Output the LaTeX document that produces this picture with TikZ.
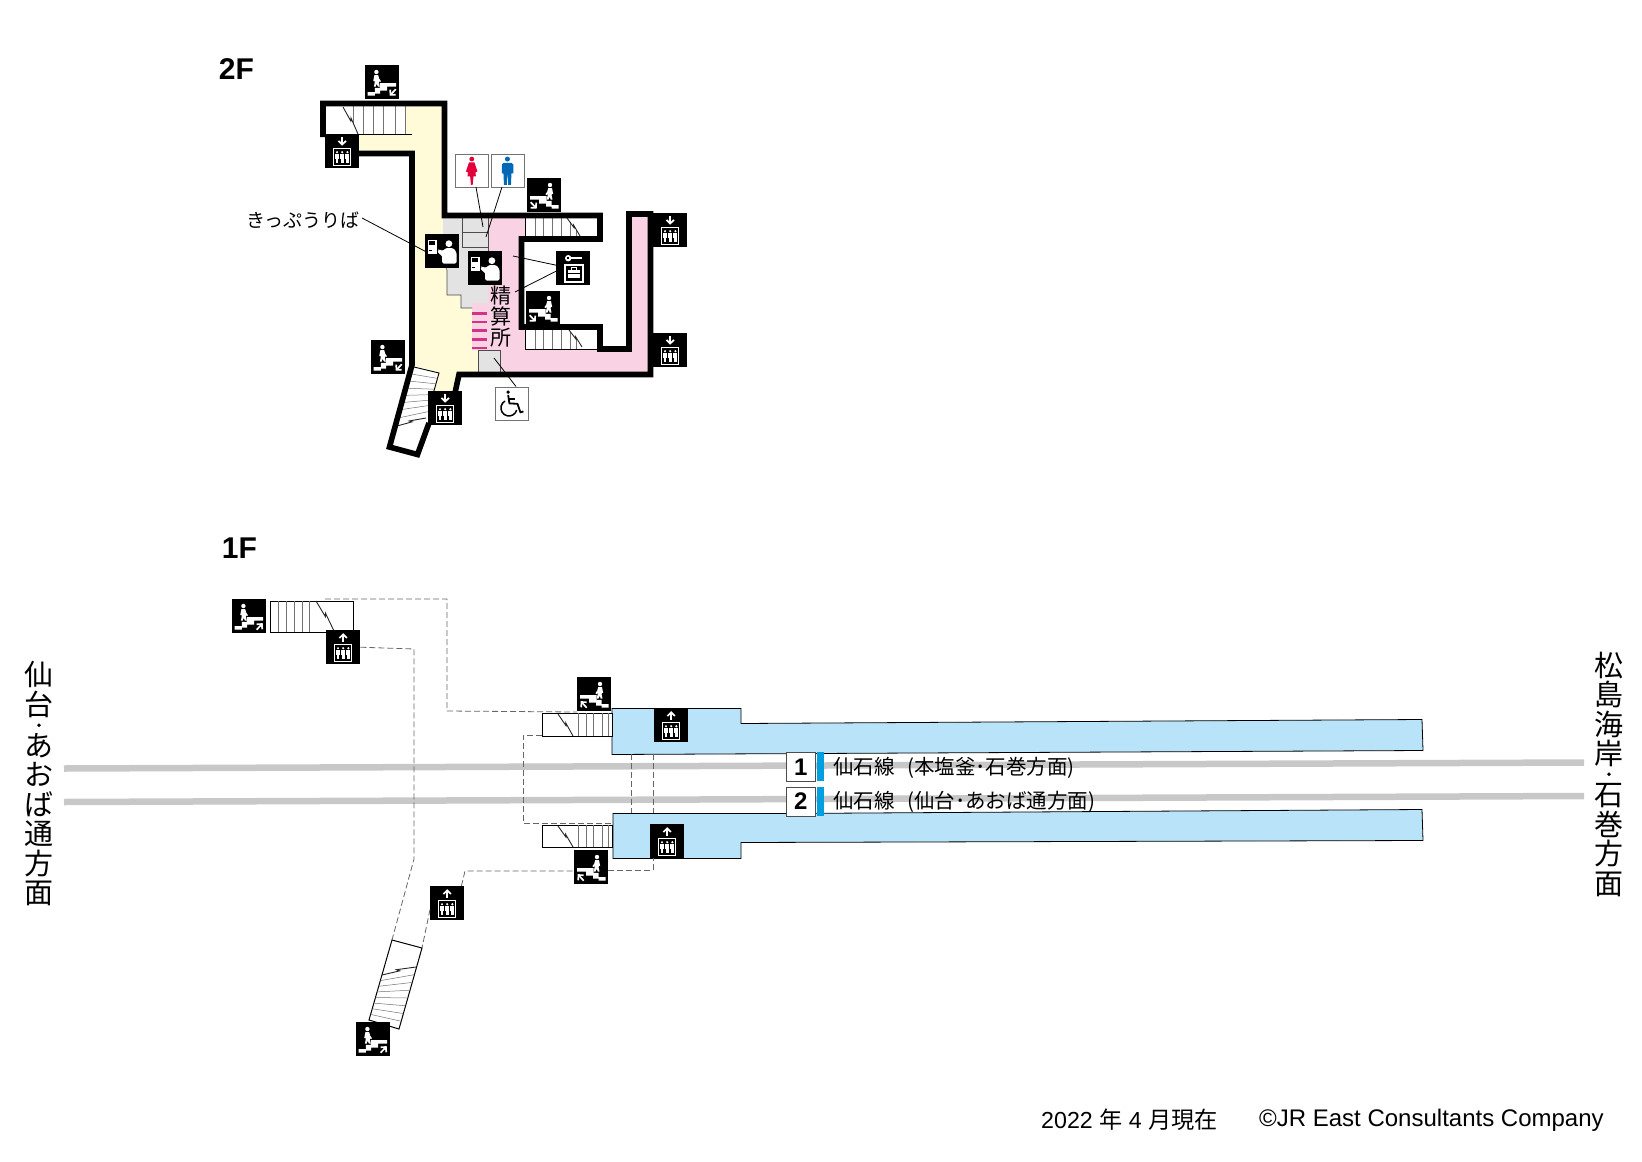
\documentclass[tikz,border=0pt]{standalone}
\usepackage{fontspec}
\setmainfont{Liberation Sans}
\newfontfamily\cjk{Noto Sans CJK JP}
\usetikzlibrary{calc,arrows.meta}
\definecolor{hallyellow}{RGB}{255,251,217}
\definecolor{gatepink}{RGB}{249,210,228}
\definecolor{roomgrey}{RGB}{227,227,227}
\definecolor{deckblue}{RGB}{185,227,248}
\definecolor{stripblue}{RGB}{0,160,224}
\definecolor{railgrey}{RGB}{200,200,200}
\definecolor{gatemagenta}{RGB}{212,50,132}
\definecolor{ladyred}{RGB}{226,0,60}
\definecolor{manblue}{RGB}{0,104,183}
\tikzset{
  wall/.style={line width=5.6pt, draw=black, miter limit=10},
  thin-edge/.style={line width=0.9pt, draw=black},
  tread/.style={line width=0.5pt, draw=black!55},
  break-line/.style={line width=0.9pt, draw=black!85},
  leader/.style={line width=0.8pt, draw=black},
  walk-way/.style={line width=0.8pt, draw=black!60, dash pattern=on 6pt off 3pt},
  rail/.style={line width=6.5pt, draw=railgrey},
  deck/.style={line width=0.8pt, draw=black, fill=deckblue},
  sign/.style={rectangle, fill=black, minimum size=34pt, inner sep=0pt, anchor=north west},
  board/.style={rectangle, fill=white, draw=black!55, line width=0.9pt, minimum size=33pt, inner sep=0pt, anchor=north west},
  glyph/.style={shift={(-17,-17)}},
  go/.style={white, line width=1.7pt, -{Straight Barb[length=3.6pt,width=7.5pt]}},
  floor-label/.style={font=\bfseries\fontsize{30}{30}\selectfont},
  stack-label/.style={font=\cjk\fontsize{29}{29.5}\selectfont, align=center, inner sep=0pt},
  small-stack/.style={font=\cjk\fontsize{21}{21}\selectfont, align=center, inner sep=0pt},
  jp-label/.style={font=\cjk\fontsize{19}{19}\selectfont, inner sep=0pt},
  line-label/.style={font=\cjk\fontsize{20.5}{20.5}\selectfont, inner sep=0pt, anchor=west},
  track-no/.style={rectangle, fill=white, draw=black!70, line width=0.8pt, minimum width=29pt, minimum height=29pt, inner sep=0pt, anchor=north west, font=\bfseries\fontsize{24}{24}\selectfont},
  foot-label/.style={font=\fontsize{24}{24}\selectfont, inner sep=0pt},
  % Stairs and lifts
  stair-down/.pic={
    \begin{scope}[glyph]
      \stairglyph
      \draw[go] (30.5,24) -- (24.5,30.5);
    \end{scope}
  },
  stair-up/.pic={
    \begin{scope}[glyph]
      \stairglyph
      \draw[go] (24.5,30.5) -- (30.5,24);
    \end{scope}
  },
  lift-down/.pic={
    \begin{scope}[glyph]
      \liftglyph
      \draw[go] (17,3) -- (17,11.5);
    \end{scope}
  },
  lift-up/.pic={
    \begin{scope}[glyph]
      \liftglyph
      \draw[go] (17,11.5) -- (17,3);
    \end{scope}
  },
  ticket/.pic={
    \begin{scope}[glyph]
      \fill[white] (2.7,5.3) rectangle (11.3,20);
      \fill[black] (4,7) rectangle (10,11);
      \fill[black] (4,16) rectangle (7,17);
      \fill[white] (23.7,9.5) circle (3.4);
      \fill[white, rounded corners=1.5pt] (17,29.5) -- (17,21) -- (13.5,20) -- (12.3,16) -- (14,15) -- (17.5,17) -- (20.5,13.8) -- (28,13.8) -- (31.3,18) -- (31.3,29.5) -- cycle;
    \end{scope}
  },
  locker/.pic={
    \begin{scope}[glyph]
      \fill[white] (12,7) circle (3.2);
      \fill[white] (13,6) rectangle (26,8);
      \fill[black] (11.2,6.2) rectangle (12.6,7.8);
      \draw[white, line width=2pt] (8.3,14) rectangle (26.5,30.5);
      \fill[white] (11.5,18.5) rectangle (23.5,27);
      \draw[white, line width=1pt] (15,18.5) -- (15,16.6) -- (20,16.6) -- (20,18.5);
      \draw[black, line width=0.5pt] (11.5,22) -- (23.5,22);
    \end{scope}
  },
  lady/.pic={
    \begin{scope}[glyph]
      \fill[ladyred] (17.3,5.6) circle (2.4);
      \fill[ladyred] (14.5,9) -- (20,9) -- (23,18) -- (21,19) -- (21.5,23) -- (19,23) -- (18.2,31.5) -- (16.5,31.5) -- (15.7,23) -- (13,23) -- (13.5,19) -- (11.5,18) -- cycle;
    \end{scope}
  },
  gent/.pic={
    \begin{scope}[glyph]
      \fill[manblue] (17,5.6) circle (2.5);
      \fill[manblue] (11.5,11) -- (13,9.5) -- (21,9.5) -- (22.8,11) -- (22.8,20) -- (21,20) -- (20.5,31.5) -- (17.7,31.5) -- (17.2,22) -- (16.7,22) -- (16.3,31.5) -- (13.5,31.5) -- (13,20) -- (11.5,20) -- cycle;
    \end{scope}
  },
  wheelchair/.pic={
    \begin{scope}[glyph]
      \fill[black] (13.7,5.7) circle (1.9);
      \draw[black, line width=1.8pt, line join=round] (13.7,8.5) -- (15,17) -- (23,17.3) -- (26,26) -- (29,25);
      \draw[black, line width=1.4pt] (15,12.5) -- (21,12.5);
      \draw[black, line width=1.5pt] (10.5,14.6) arc[start angle=120, end angle=345, radius=8pt];
    \end{scope}
  }
}
\newcommand{\stairglyph}{
  \fill[white] (2.5,30.5) -- (2.5,27) -- (9.7,27) -- (9.7,22.7) -- (14.7,22.7) -- (14.7,18) -- (31,18) -- (31,21.3) -- (22,21.3) -- (22,25.5) -- (15,25.5) -- (15,28.5) -- (9.7,28.5) -- (9.7,30.5) -- cycle;
  \fill[white] (11.2,6.8) circle (2.2);
  \fill[white] (9.2,10) -- (13,10) -- (14,13.5) -- (15.8,16) -- (14.6,17) -- (13.6,15.5) -- (13.6,17.5) -- (14.6,21.5) -- (12.8,21.5) -- (11.4,18.5) -- (10.5,21.5) -- (8.7,21.5) -- (9.6,17) -- (9.2,15.5) -- (8,16) -- cycle;
}
\newcommand{\liftglyph}{
  \draw[white, line width=1.2pt] (8.4,14) rectangle (25.6,31);
  \foreach \p in {11.8,17,22.2} {
    \fill[white] (\p,18) circle (1.2);
    \fill[white] (\p-2,19.6) rectangle (\p+2,24.5);
    \fill[white] (\p-1.3,24.5) rectangle (\p+1.3,29);
  }
}
\newcommand{\stairbreak}[2]{
  \draw[break-line] (#1) -- ($(#1)!0.52!(#2)$) -- ($(#1)!0.44!7:(#2)$) -- (#2);
}
\newcommand{\stackdot}{{\fontsize{14}{14}\selectfont\addfontfeature{FakeBold=4}・}}

\begin{document}
\begin{tikzpicture}[x=1pt,y=-1pt]
  \useasboundingbox (0,0) rectangle (1642,1162);
  % Floor titles
  \node[floor-label] (floorTwo) at (236.5,69) {2F};
  \node[floor-label] (floorOne) at (239.5,548) {1F};

  % 2F areas
  \fill[hallyellow] (358,135) -- (358,151) -- (412,151) -- (412,365) -- (439,373) -- (430,400) -- (456,400) -- (459,372) -- (478,372) -- (478,350) -- (472,350) -- (472,308) -- (461,308) -- (461,295) -- (447,295) -- (447,270) -- (443,262) -- (443,218) -- (442,106) -- (405,106) -- (405,135) -- cycle;
  \fill[roomgrey] (443,218) -- (488,218) -- (488,303) -- (472,303) -- (472,308) -- (461,308) -- (461,295) -- (447,295) -- (447,270) -- (443,262) -- cycle;
  \fill[gatepink] (488,218) -- (525,218) -- (525,240) -- (520,240) -- (520,330) -- (525,330) -- (525,350) -- (632,350) -- (632,214) -- (650,214) -- (650,372) -- (500,372) -- (500,350) -- (472,350) -- (472,303) -- (488,303) -- cycle;
  \fill[roomgrey] (478,350) rectangle (500,372);
  \draw[line width=0.6pt, draw=black!70] (443,262) -- (447,270) -- (447,295) -- (461,295) -- (461,308) -- (472,308);
  \draw[line width=0.6pt, draw=black!70] (462,218) -- (462,247) -- (488,247) (462,232) -- (488,232) (488,218) -- (488,251);
  \draw[line width=0.6pt, draw=black!70] (478,372) -- (478,350) -- (500,350) -- (500,372);

  % Fare gates
  \foreach \y in {313.5,322,330.5,339.5,348} {
    \draw[gatemagenta, line width=2.7pt] (472,\y) -- (487,\y);
  }

  % 2F stairs
  \draw[thin-edge] (326,134) -- (412,134);
  \draw[tread] (405,106) -- (405,134);
  \draw[tread] (353,106) -- (353,124);
  \foreach \x in {363,373,383,395} {
    \draw[tread] (\x,106) -- (\x,134);
  }
  \stairbreak{343,107}{358,134}
  \draw[thin-edge] (525,218) -- (525,237);
  \foreach \x in {535,543,552,561} {
    \draw[tread] (\x,218) -- (\x,237);
  }
  \draw[tread] (570,222) -- (570,237);
  \draw[tread] (576,230) -- (576,237);
  \stairbreak{567,218}{580,236}
  \draw[thin-edge] (525,330) -- (525,349) -- (597,349);
  \foreach \x in {535,543,552,561} {
    \draw[tread] (\x,330) -- (\x,349);
  }
  \draw[tread] (570,332) -- (570,349);
  \draw[tread] (576,339) -- (576,349);
  \stairbreak{569,330}{582,347}
  \coordinate (flightA) at (414,367);
  \coordinate (flightB) at (439,373);
  \coordinate (flightC) at (397,426);
  \coordinate (flightD) at (426,418);
  \draw[thin-edge] (flightA) -- (flightB) -- (430,405);
  \foreach \t in {0.12,0.24,0.36,0.48,0.6,0.72,0.86} {
    \draw[tread] ($(flightA)!\t!(flightC)$) -- ($(flightB)!\t!(flightD)$);
  }
  \stairbreak{flightC}{flightD}

  % 2F walls
  \draw[wall] (323,137) -- (323,103.5) -- (444.5,103.5) -- (444.5,215.5) -- (600,215.5) -- (600,239) -- (521.5,239) -- (521.5,327) -- (600,327) -- (600,349) -- (629,349) -- (629,214) -- (650.5,214) -- (650.5,374.5) -- (459,374.5) -- (455,393);
  \draw[wall] (358,153.5) -- (412,153.5) -- (412,365) -- (389.5,447) -- (417.5,454.5) -- (429,423);

  % 2F signs
  \node[sign] (stairTop) at (365,65) {};
  \node[sign] (liftTop) at (325,134) {};
  \node[sign] (ticketHall) at (425,234) {};
  \node[sign] (ticketGate) at (468,251) {};
  \node[sign] (stairUpper) at (527,178) {};
  \node[sign] (stairLower) at (526,291) {};
  \node[sign] (lockerSign) at (556,251) {};
  \node[sign] (liftUpper) at (653,213) {};
  \node[sign] (liftLower) at (653,333) {};
  \node[sign] (stairLeft) at (371,340) {};
  \node[sign] (liftFoot) at (428,391) {};
  \node[board] (ladyBoard) at (454.5,153.5) {};
  \node[board] (gentBoard) at (490.5,153.5) {};
  \node[board] (chairBoard) at (494.5,386.5) {};
  \pic at (stairTop) {stair-down};
  \pic at (liftTop) {lift-down};
  \pic at (ticketHall) {ticket};
  \pic at (ticketGate) {ticket};
  \pic[xscale=-1] at (stairUpper) {stair-down};
  \pic[xscale=-1] at (stairLower) {stair-down};
  \pic at (lockerSign) {locker};
  \pic at (liftUpper) {lift-down};
  \pic at (liftLower) {lift-down};
  \pic at (stairLeft) {stair-down};
  \pic at (liftFoot) {lift-down};
  \pic at (ladyBoard) {lady};
  \pic at (gentBoard) {gent};
  \pic at (chairBoard) {wheelchair};

  % 2F labels and leaders
  \node[jp-label] (ticketLabel) at (303,220) {きっぷうりば};
  \node[small-stack] (fareLabel) at (500.5,317) {精\\算\\所};
  \coordinate (ladyEnd) at (483,227);
  \coordinate (gentEnd) at (486,237);
  \coordinate (lockerEndA) at (513,256);
  \coordinate (lockerEndB) at (515,292);
  \coordinate (chairEnd) at (494,358);
  \coordinate (ticketStart) at (362,218);
  \draw[leader] (ticketStart) -- (ticketHall.west);
  \draw[leader] (476,187) -- (ladyEnd);
  \draw[leader] (502,187) -- (gentEnd);
  \draw[leader] (lockerSign.170) -- (lockerEndA);
  \draw[leader] (lockerSign.190) -- (lockerEndB);
  \draw[leader] (chairBoard.75) -- (chairEnd);

  % Tracks
  \coordinate (railAw) at (64,768.5);
  \coordinate (railAe) at (1584,762.5);
  \coordinate (railBw) at (64,802);
  \coordinate (railBe) at (1584,796);
  \draw[rail] (railAw) -- (railAe);
  \draw[rail] (railBw) -- (railBe);

  % Platforms
  \draw[deck] (612,708.5) -- (741,708.5) -- (741,723.5) -- (1422,719.5) -- (1423,750.5) -- (612,754.5) -- cycle;
  \draw[deck] (613,813.5) -- (787,813.5) -- (1422,809.5) -- (1423,840.5) -- (741,842.5) -- (741,858.5) -- (613,858.5) -- cycle;

  % 1F walkways
  \coordinate (wayA) at (325,599);
  \coordinate (wayB) at (577,712);
  \coordinate (wayC) at (612,735);
  \coordinate (wayD) at (612,823);
  \coordinate (wayE) at (631,754);
  \coordinate (wayF) at (631,813);
  \coordinate (wayG) at (653,754);
  \coordinate (wayH) at (653,813);
  \coordinate (wayJ) at (653,858);
  \coordinate (wayK) at (392,940);
  \coordinate (wayL) at (422,948);
  \draw[walk-way] (wayA) -- (447,599) -- (447,711) -- (wayB);
  \draw[walk-way] (542,735) -- (523,735) -- (523,823) -- (wayD);
  \draw[walk-way] (wayE) -- (wayF);
  \draw[walk-way] (wayG) -- (wayH);

  % 1F stairs
  \node[draw=black, line width=1pt, minimum width=83pt, minimum height=31pt, inner sep=0pt, anchor=north west, fill=white] (flightWest) at (270,601) {};
  \foreach \x in {278,286,294,302,309} {
    \draw[tread] (\x,601) -- (\x,632);
  }
  \stairbreak{316,601}{334,631}
  \node[draw=black, line width=1pt, minimum width=70pt, minimum height=23pt, inner sep=0pt, anchor=north west, fill=white] (flightNorth) at (542,713) {};
  \node[draw=black, line width=1pt, minimum width=70pt, minimum height=22pt, inner sep=0pt, anchor=north west, fill=white] (flightSouth) at (542,825) {};
  \foreach \x in {578,586,593,602,608} {
    \draw[tread] (\x,713) -- (\x,736);
    \draw[tread] (\x,825) -- (\x,847);
  }
  \stairbreak{558,714}{573,736}
  \stairbreak{558,826}{573,847}
  \coordinate (slantA) at (392,940);
  \coordinate (slantB) at (422,948);
  \coordinate (slantC) at (399,1029);
  \coordinate (slantD) at (369,1020);
  \coordinate (slantE) at (382,975);
  \coordinate (slantF) at (416,967);
  \draw[line width=1pt, draw=black, fill=white] (slantA) -- (slantB) -- (slantC) -- (slantD) -- cycle;
  \foreach \t in {0.125,0.25,0.375,0.5,0.625,0.75,0.875} {
    \draw[tread] ($(slantD)!\t!(slantE)$) -- ($(slantC)!\t!(slantF)$);
  }
  \stairbreak{slantE}{slantF}

  % 1F signs
  \node[sign] (stairWest) at (232,599) {};
  \node[sign] (liftWest) at (326,630) {};
  \node[sign] (stairNorth) at (577,677) {};
  \node[sign] (liftNorth) at (654,708) {};
  \node[sign] (liftSouth) at (650,824) {};
  \node[sign] (stairSouth) at (574,850) {};
  \node[sign] (liftSlant) at (430,886) {};
  \node[sign] (stairSlant) at (356,1022) {};
  \pic at (stairWest) {stair-up};
  \pic at (liftWest) {lift-up};
  \pic[xscale=-1] at (stairNorth) {stair-up};
  \pic at (liftNorth) {lift-up};
  \pic at (liftSouth) {lift-up};
  \pic[xscale=-1] at (stairSouth) {stair-up};
  \pic at (liftSlant) {lift-up};
  \pic at (stairSlant) {stair-up};

  % Walkways leaving the signs
  \draw[walk-way] (liftWest.east) -- (414,649) -- (414,859) -- (wayK);
  \draw[walk-way] (liftSlant.200) -- (wayL);
  \draw[walk-way] (liftSlant.north east) ++(-3,0) -- (465,871) -- (stairSouth.west|-465,871);
  \draw[walk-way] (stairSouth.east|-465,870) -- (653,870) -- (wayJ);

  % Track numbers
  \node[track-no] (trackOne) at (786,752) {1};
  \node[track-no] (trackTwo) at (786,786.5) {2};
  \fill[stripblue] (817,752) rectangle (824,781);
  \fill[stripblue] (817,786.5) rectangle (824,816);
  \node[line-label] (lineOne) at (833,768) {仙石線\hspace{8pt} (本塩釜･石巻方面)};
  \node[line-label] (lineTwo) at (833,802) {仙石線\hspace{8pt} (仙台･あおば通方面)};

  % Direction labels
  \node[stack-label] (westLabel) at (39,784) {仙\\台\\[-14.5pt]\stackdot\\[-3.5pt]あ\\お\\ば\\通\\方\\面};
  \node[stack-label] (eastLabel) at (1609,774) {松\\島\\海\\岸\\[-14.5pt]\stackdot\\[-3.5pt]石\\巻\\方\\面};

  % Footer
  \node[foot-label, anchor=west, font=\fontsize{23.2}{23.2}\selectfont] (dateLabel) at (1041,1120) {2022 {\cjk 年} 4 {\cjk 月現在}};
  \node[foot-label, anchor=west] (creditLabel) at (1259,1120) {©JR East Consultants Company};
\end{tikzpicture}
\end{document}
